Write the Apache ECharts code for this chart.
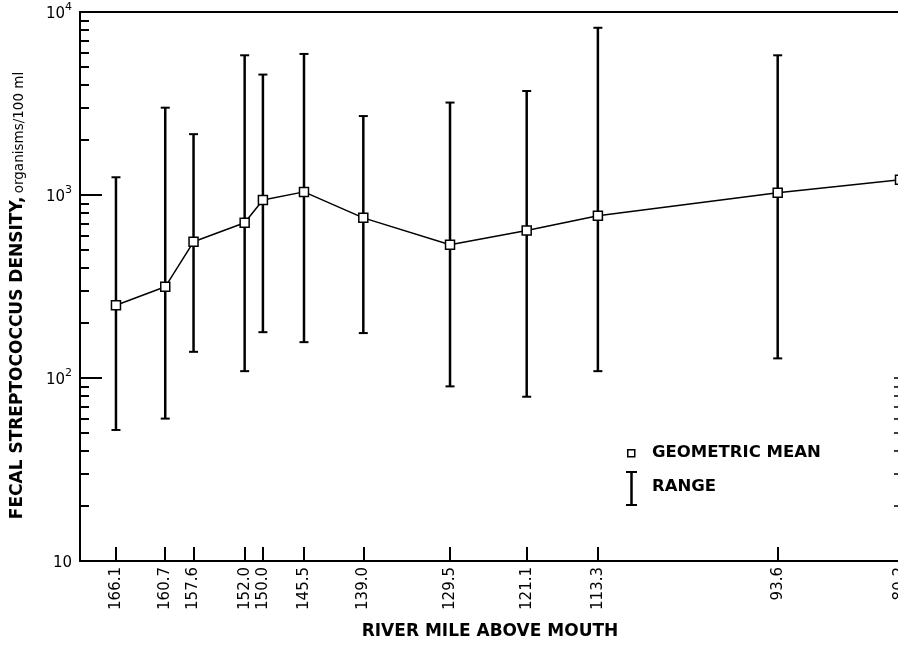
<!DOCTYPE html>
<html>
<head>
<meta charset="utf-8">
<script src="https://cdn.jsdelivr.net/npm/echarts@6/dist/echarts.min.js"></script>
<style>
  html, body { margin: 0; padding: 0; background: #fff; }
  #chart { width: 898px; height: 647px; }
</style>
</head>
<body>
<div id="chart"></div>
<script>
// river mile stations (x), geometric mean and range (organisms/100 ml)
var miles = [166.1, 160.7, 157.6, 152.0, 150.0, 145.5, 139.0, 129.5, 121.1, 113.3, 93.6, 80.2];
var means = [250, 315, 555, 705, 940, 1040, 750, 535, 640, 770, 1030, 1210];
var lows = [52, 60, 139, 109, 178, 157, 176, 90, 79, 109, 128];
var highs = [1250, 3000, 2150, 5800, 4550, 5900, 2700, 3200, 3700, 8200, 5800];

// y axis ticks (log scale)
var majorTicks = [10, 100, 1000, 10000];
var minorTicks = [20, 30, 40, 50, 60, 70, 80, 90, 200, 300, 400, 500, 600, 700, 800, 900,
                  2000, 3000, 4000, 5000, 6000, 7000, 8000, 9000];
var rightTicks = [20, 30, 40, 50, 60, 70, 80, 90, 100];

(function() {
  var ink = '#000';
  var font = 'DejaVu Sans';

  var meanData = miles.map(function(m, i) { return [m, means[i]]; });
  var rangeData = lows.map(function(lo, i) { return [miles[i], lo, highs[i]]; });

  var chart = echarts.init(document.getElementById('chart'), null, { renderer: 'canvas' });
  chart.setOption({
    animation: false,
    backgroundColor: '#fff',
    grid: { left: 80, right: -2, top: 12, bottom: 86, containLabel: false, outerBoundsMode: 'none' },
    xAxis: [{
      type: 'value',
      min: 80.2,
      max: 170.04,
      inverse: true,
      position: 'bottom',
      name: 'RIVER MILE ABOVE MOUTH',
      nameLocation: 'middle',
      nameGap: 62,
      nameTextStyle: { color: ink, fontFamily: font, fontSize: 17, fontWeight: 'bold', verticalAlign: 'top' },
      axisLine: { lineStyle: { color: ink, width: 2 } },
      axisTick: { customValues: miles, inside: true, length: 14, lineStyle: { color: ink, width: 2 } },
      axisLabel: {
        customValues: miles,
        rotate: 90,
        margin: 6,
        color: ink,
        fontFamily: font,
        fontSize: 15,
        hideOverlap: false,
        formatter: function(v) { return v.toFixed(1); }
      },
      splitLine: { show: false }
    }, {
      type: 'value',
      min: 80.2,
      max: 170.04,
      inverse: true,
      position: 'top',
      axisLine: { lineStyle: { color: ink, width: 2 } },
      axisTick: { show: false },
      axisLabel: { show: false },
      splitLine: { show: false }
    }],
    yAxis: [{
      type: 'log',
      logBase: 10,
      min: 10,
      max: 10000,
      position: 'left',
      name: '{cap|FECAL STREPTOCOCCUS DENSITY,} {low|organisms/100 ml}',
      nameLocation: 'middle',
      nameGap: 54,
      nameTextStyle: {
        padding: [0, 18, 0, 0],
        rich: {
          cap: { color: ink, fontFamily: font, fontSize: 17, fontWeight: 'bold', verticalAlign: 'bottom', lineHeight: 18 },
          low: { color: ink, fontFamily: font, fontSize: 13.5, verticalAlign: 'bottom', lineHeight: 18 }
        }
      },
      axisLine: { lineStyle: { color: ink, width: 2 } },
      axisTick: { customValues: majorTicks, inside: true, length: 22, lineStyle: { color: ink, width: 2 } },
      axisLabel: {
        customValues: majorTicks,
        margin: 8,
        formatter: function(v) {
          var e = Math.round(Math.log(v) / Math.LN10);
          return e === 1 ? '{b|10}' : '{b|10}{s|' + e + '}';
        },
        rich: {
          b: { color: ink, fontFamily: font, fontSize: 15, lineHeight: 20, verticalAlign: 'bottom' },
          s: { color: ink, fontFamily: font, fontSize: 11, lineHeight: 12, verticalAlign: 'top' }
        }
      },
      splitLine: { show: false }
    }, {
      type: 'log',
      logBase: 10,
      min: 10,
      max: 10000,
      position: 'left',
      axisLine: { show: false },
      axisTick: { customValues: minorTicks, inside: true, length: 9, lineStyle: { color: ink, width: 2 } },
      axisLabel: { show: false },
      splitLine: { show: false }
    }, {
      type: 'log',
      logBase: 10,
      min: 10,
      max: 10000,
      position: 'right',
      axisLine: { show: false },
      axisTick: { customValues: rightTicks, inside: true, length: 6, lineStyle: { color: ink, width: 1.5 } },
      axisLabel: { show: false },
      splitLine: { show: false }
    }],
    series: [{
      name: 'RANGE',
      type: 'custom',
      xAxisIndex: 0,
      yAxisIndex: 0,
      z: 2,
      encode: { x: 0, y: [1, 2] },
      data: rangeData,
      renderItem: function(params, api) {
        var x = api.value(0);
        var lo = api.coord([x, api.value(1)]);
        var hi = api.coord([x, api.value(2)]);
        var hw = 4.5;
        return {
          type: 'group',
          children: [
            { type: 'line', shape: { x1: lo[0], y1: lo[1], x2: hi[0], y2: hi[1] }, style: { stroke: ink, lineWidth: 2.5 } },
            { type: 'line', shape: { x1: hi[0] - hw, y1: hi[1], x2: hi[0] + hw, y2: hi[1] }, style: { stroke: ink, lineWidth: 2 } },
            { type: 'line', shape: { x1: lo[0] - hw, y1: lo[1], x2: lo[0] + hw, y2: lo[1] }, style: { stroke: ink, lineWidth: 2 } }
          ]
        };
      }
    }, {
      name: 'GEOMETRIC MEAN',
      type: 'line',
      xAxisIndex: 0,
      yAxisIndex: 0,
      z: 5,
      data: meanData,
      symbol: 'rect',
      symbolSize: 9,
      showAllSymbol: true,
      lineStyle: { color: ink, width: 1.5 },
      itemStyle: { color: '#fff', borderColor: ink, borderWidth: 1.5 }
    }],
    graphic: [
      { type: 'rect', left: 627, top: 449, shape: { width: 7, height: 7 }, style: { fill: '#fff', stroke: ink, lineWidth: 1.5 } },
      { type: 'text', left: 652, top: 444, style: { text: 'GEOMETRIC MEAN', fill: ink, font: 'bold 16.5px "DejaVu Sans"' } },
      { type: 'line', shape: { x1: 631.5, y1: 472, x2: 631.5, y2: 505 }, style: { stroke: ink, lineWidth: 2.5 } },
      { type: 'line', shape: { x1: 626, y1: 472, x2: 637, y2: 472 }, style: { stroke: ink, lineWidth: 2 } },
      { type: 'line', shape: { x1: 626, y1: 505, x2: 637, y2: 505 }, style: { stroke: ink, lineWidth: 2 } },
      { type: 'text', left: 652, top: 478, style: { text: 'RANGE', fill: ink, font: 'bold 16.5px "DejaVu Sans"' } }
    ]
  });
  window.addEventListener('resize', function() { chart.resize(); });
})();
</script>
</body>
</html>
